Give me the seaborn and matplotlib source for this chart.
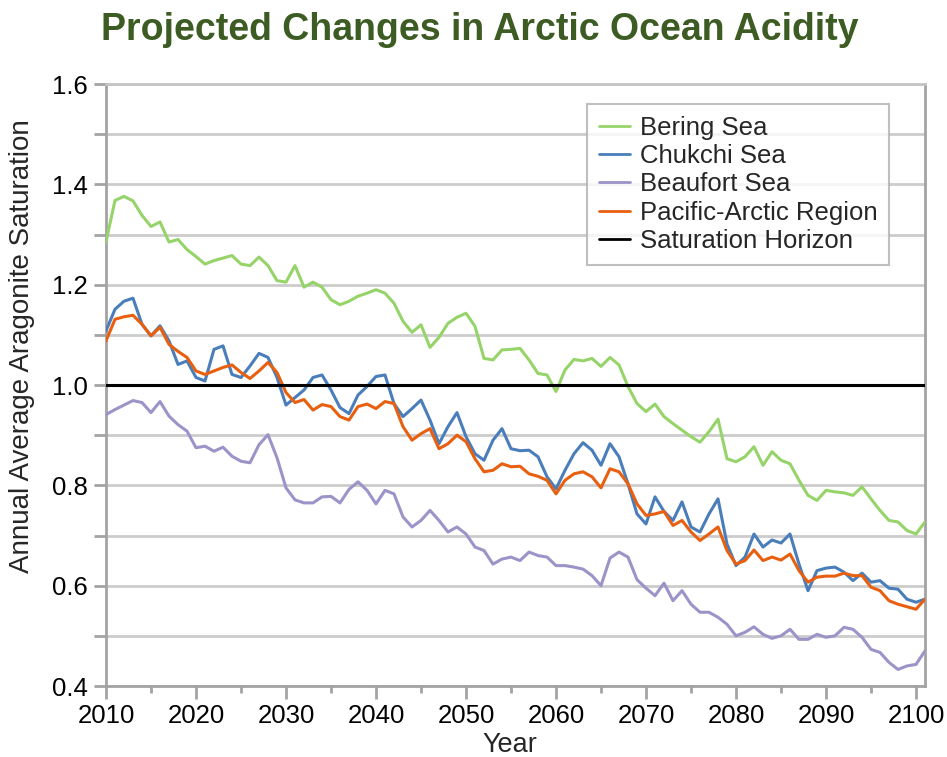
import numpy as np
import pandas as pd
import seaborn as sns
import matplotlib.pyplot as plt
from matplotlib.ticker import MultipleLocator

years = list(range(2010, 2102))

bering = [1.285, 1.368, 1.376, 1.367, 1.338, 1.316, 1.325, 1.285, 1.290, 1.270,
          1.256, 1.241, 1.248, 1.253, 1.258, 1.241, 1.238, 1.255, 1.238, 1.208,
          1.205, 1.238, 1.195, 1.205, 1.195, 1.170, 1.160, 1.167, 1.177, 1.183,
          1.190, 1.183, 1.163, 1.127, 1.105, 1.120, 1.075, 1.095, 1.123, 1.135,
          1.143, 1.117, 1.053, 1.050, 1.070, 1.071, 1.073, 1.050, 1.023, 1.020,
          0.987, 1.030, 1.051, 1.048, 1.053, 1.037, 1.055, 1.040, 0.997, 0.963,
          0.947, 0.962, 0.937, 0.923, 0.910, 0.897, 0.886, 0.907, 0.932, 0.853,
          0.847, 0.857, 0.877, 0.840, 0.867, 0.850, 0.843, 0.810, 0.780, 0.770,
          0.790, 0.787, 0.785, 0.780, 0.797, 0.773, 0.750, 0.730, 0.727, 0.710,
          0.703, 0.727]

chukchi = [1.108, 1.151, 1.167, 1.173, 1.121, 1.098, 1.118, 1.088, 1.041, 1.048,
           1.015, 1.008, 1.071, 1.078, 1.021, 1.015, 1.038, 1.063, 1.055, 1.015,
           0.960, 0.975, 0.990, 1.015, 1.020, 0.990, 0.955, 0.943, 0.980, 0.997,
           1.017, 1.020, 0.963, 0.937, 0.953, 0.970, 0.930, 0.883, 0.917, 0.945,
           0.897, 0.863, 0.850, 0.890, 0.913, 0.873, 0.869, 0.870, 0.857, 0.817,
           0.793, 0.830, 0.863, 0.885, 0.870, 0.840, 0.883, 0.857, 0.803, 0.743,
           0.723, 0.777, 0.748, 0.730, 0.767, 0.717, 0.707, 0.743, 0.773, 0.683,
           0.640, 0.657, 0.703, 0.677, 0.691, 0.685, 0.703, 0.643, 0.590, 0.630,
           0.635, 0.637, 0.627, 0.610, 0.625, 0.607, 0.610, 0.595, 0.593, 0.573,
           0.567, 0.573]

beaufort = [0.941, 0.951, 0.960, 0.969, 0.965, 0.945, 0.967, 0.938, 0.921, 0.908,
            0.875, 0.878, 0.868, 0.876, 0.858, 0.848, 0.845, 0.881, 0.901, 0.855,
            0.795, 0.771, 0.765, 0.765, 0.777, 0.778, 0.765, 0.792, 0.807, 0.790,
            0.763, 0.790, 0.783, 0.737, 0.717, 0.730, 0.750, 0.730, 0.707, 0.717,
            0.703, 0.677, 0.670, 0.643, 0.653, 0.657, 0.650, 0.667, 0.660, 0.657,
            0.640, 0.640, 0.637, 0.633, 0.620, 0.600, 0.655, 0.667, 0.657, 0.612,
            0.595, 0.580, 0.605, 0.570, 0.590, 0.563, 0.547, 0.547, 0.537, 0.523,
            0.500, 0.507, 0.518, 0.503, 0.495, 0.500, 0.513, 0.493, 0.493, 0.503,
            0.497, 0.500, 0.517, 0.513, 0.497, 0.473, 0.467, 0.447, 0.433, 0.440,
            0.443, 0.470]

pacific = [1.088, 1.131, 1.136, 1.139, 1.121, 1.098, 1.115, 1.081, 1.067, 1.055,
           1.028, 1.021, 1.028, 1.035, 1.040, 1.025, 1.013, 1.028, 1.045, 1.025,
           0.985, 0.965, 0.971, 0.950, 0.961, 0.957, 0.937, 0.930, 0.957, 0.962,
           0.953, 0.967, 0.963, 0.917, 0.890, 0.903, 0.913, 0.873, 0.883, 0.900,
           0.887, 0.853, 0.827, 0.830, 0.843, 0.837, 0.838, 0.823, 0.818, 0.810,
           0.783, 0.810, 0.823, 0.827, 0.817, 0.795, 0.833, 0.827, 0.803, 0.763,
           0.740, 0.743, 0.748, 0.720, 0.730, 0.707, 0.690, 0.703, 0.717, 0.670,
           0.643, 0.650, 0.671, 0.650, 0.657, 0.651, 0.663, 0.630, 0.607, 0.617,
           0.619, 0.619, 0.625, 0.620, 0.620, 0.597, 0.590, 0.570, 0.563, 0.558,
           0.553, 0.573]

saturation_horizon = 1.0

series_names = ["Bering Sea", "Chukchi Sea", "Beaufort Sea",
                "Pacific-Arctic Region", "Saturation Horizon"]
colors = ["#96d46a", "#4a7ebb", "#9d93c9", "#e8600f", "#000000"]

df = pd.concat([
    pd.DataFrame({"Year": years, "Value": bering, "Series": series_names[0]}),
    pd.DataFrame({"Year": years, "Value": chukchi, "Series": series_names[1]}),
    pd.DataFrame({"Year": years, "Value": beaufort, "Series": series_names[2]}),
    pd.DataFrame({"Year": years, "Value": pacific, "Series": series_names[3]}),
    pd.DataFrame({"Year": years, "Value": [saturation_horizon] * len(years),
                  "Series": series_names[4]}),
], ignore_index=True)

sns.set_style("white")
plt.rcParams['font.family'] = ['Liberation Sans', 'DejaVu Sans']

fig = plt.figure(figsize=(9.47, 7.57), dpi=100)
ax = fig.add_axes([106 / 947, 1 - 686 / 757, (925 - 106) / 947, (686 - 84) / 757])

sns.lineplot(data=df, x="Year", y="Value", hue="Series", hue_order=series_names,
             palette=dict(zip(series_names, colors)), linewidth=2.2, ax=ax,
             zorder=3)

ax.set_xlim(2010, 2101)
ax.set_ylim(0.4, 1.6)

grey = "#a3a3a3"
ax.xaxis.set_major_locator(MultipleLocator(10))
ax.xaxis.set_minor_locator(MultipleLocator(5))
ax.yaxis.set_major_locator(MultipleLocator(0.2))
ax.yaxis.set_minor_locator(MultipleLocator(0.1))
ax.yaxis.set_major_formatter(plt.FuncFormatter(lambda v, p: f"{v:.1f}"))

ax.grid(True, which="both", axis="y", color="#cccccc", linewidth=2, zorder=0)
ax.set_axisbelow(True)

for s in ax.spines.values():
    s.set_visible(True)
    s.set_color(grey)
    s.set_linewidth(2)
ax.spines["top"].set_color("#c4c4c4")

ax.tick_params(axis="both", which="major", direction="out", length=9, width=2,
               color=grey, labelsize=18.5, pad=4, bottom=True, left=True,
               labelcolor="black")
ax.tick_params(axis="x", which="minor", direction="out", length=5, width=2,
               color=grey, bottom=True)
ax.tick_params(axis="y", which="minor", direction="out", length=9, width=2,
               color=grey, left=True)

ax.set_xlabel("Year", fontsize=19.5, va="center")
ax.xaxis.set_label_coords((510 - 106) / 819, (686 - 745) / 602)
ax.set_ylabel("Annual Average Aragonite Saturation", fontsize=20, va="center")
ax.yaxis.set_label_coords((22 - 106) / 819, (686 - 346) / 602)

handles, labels = ax.get_legend_handles_labels()
leg = ax.legend(handles, labels, loc="upper right", bbox_to_anchor=(889 / 947, 1 - 104 / 757),
                bbox_transform=fig.transFigure, fontsize=18.5, frameon=True, fancybox=False,
                handlelength=1.2, handletextpad=0.4, labelspacing=0.17,
                borderpad=0.45, borderaxespad=0)
leg.get_frame().set_edgecolor("#b0b0b0")
leg.get_frame().set_linewidth(1.5)
for line in leg.get_lines():
    line.set_linewidth(2)

fig.text(480 / 947, 1 - 30 / 757, "Projected Changes in Arctic Ocean Acidity",
         ha="center", va="center", fontsize=27, fontweight="bold", color="#3d5c23",
         family=["Liberation Sans Narrow", "Liberation Sans", "DejaVu Sans"])

fig.savefig("out.png", dpi=100)
